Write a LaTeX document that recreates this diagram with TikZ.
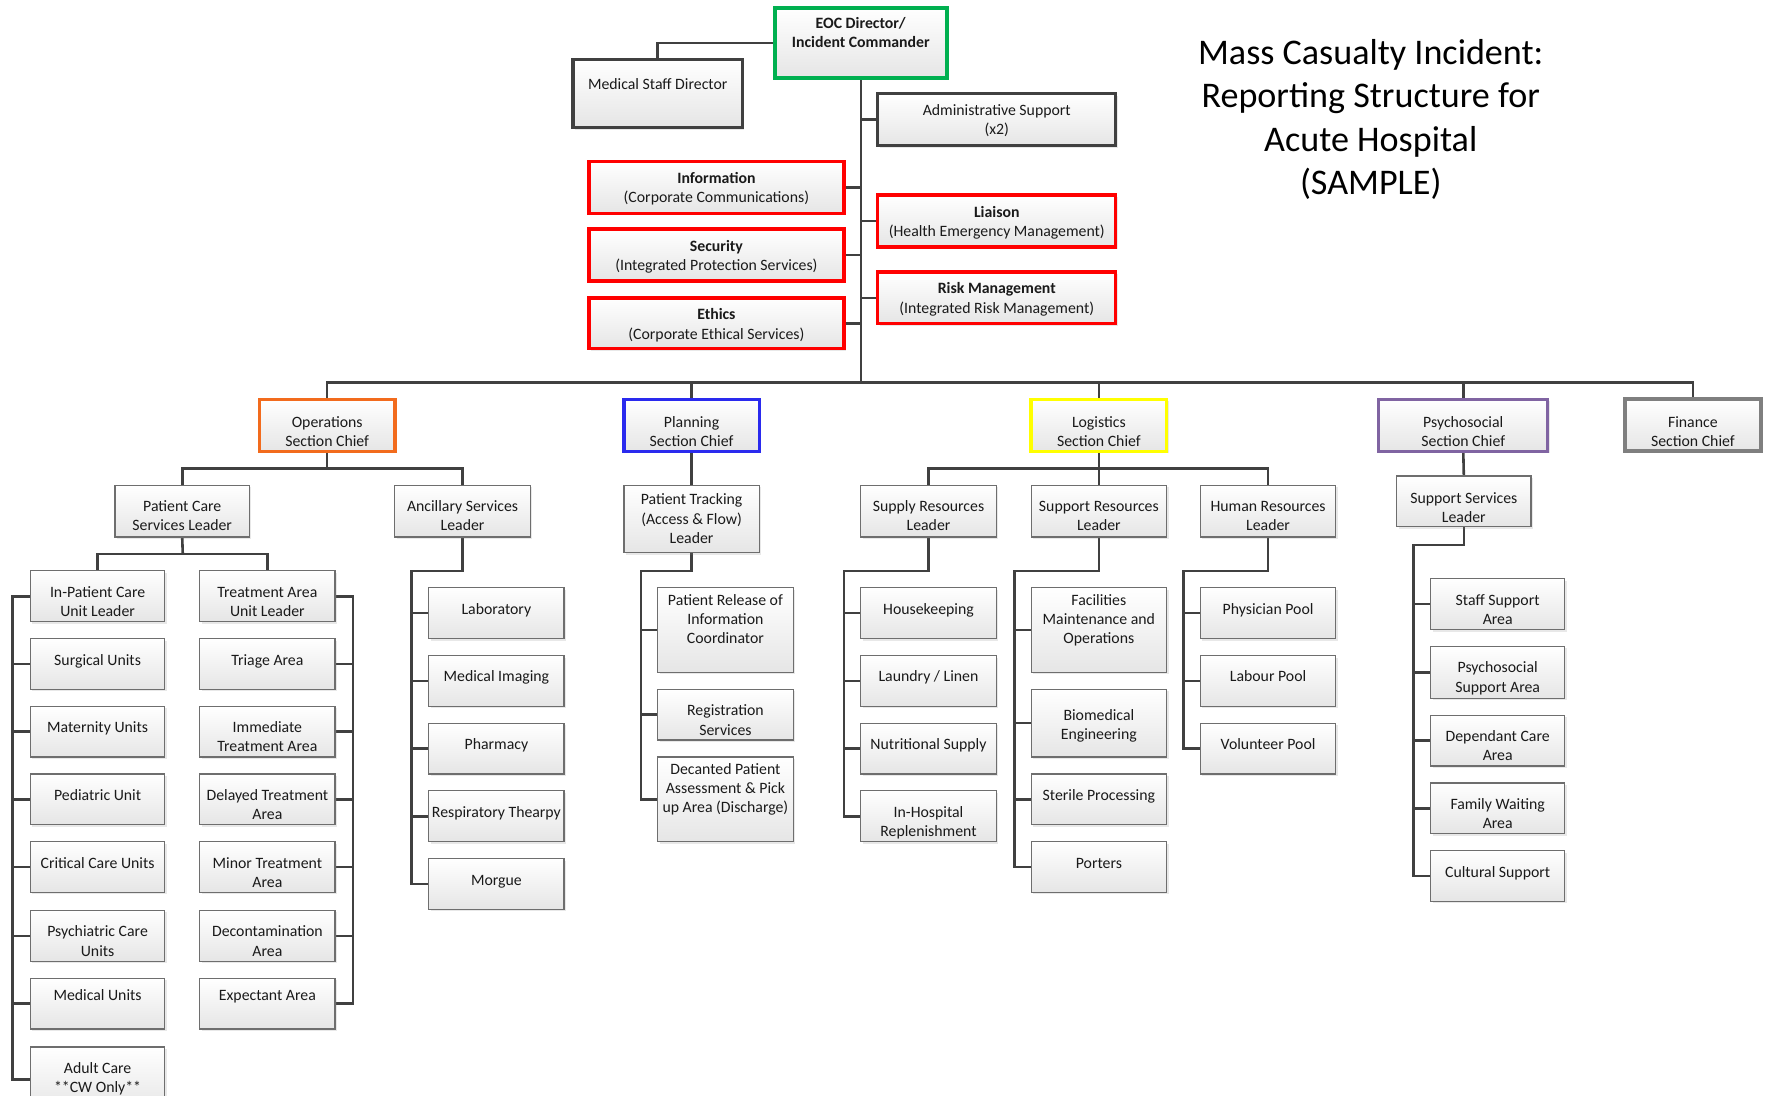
\documentclass[tikz,border=0pt]{standalone}
\usepackage{fontspec}
\setmainfont{Carlito}
\usetikzlibrary{shadows,backgrounds}
\definecolor{ln}{HTML}{404040}
\definecolor{bd}{HTML}{6E6E6E}
\definecolor{txt}{HTML}{1A1A1A}
\definecolor{eocg}{HTML}{00B050}
\definecolor{opso}{HTML}{F26B1D}
\definecolor{plnc}{HTML}{2A2AEE}
\definecolor{logy}{HTML}{FFFF00}
\definecolor{psyp}{HTML}{8064A2}
\definecolor{fing}{HTML}{7F7F7F}
\definecolor{redc}{HTML}{FF0000}
\tikzset{
  ob/.style={draw=bd, line width=1.1pt, top color=white, bottom color=black!10,
    drop shadow={shadow xshift=1.8pt, shadow yshift=-1.8pt, opacity=0.18},
    font=\fontsize{14}{17}\selectfont, text=txt, inner sep=0pt, outer sep=0pt},
  thk/.style={ob, draw=ln, line width=3pt},
  redbx/.style={ob, draw=redc, line width=3pt},
  eocbx/.style={ob, draw=eocg, line width=3.5pt},
  opsbx/.style={ob, draw=opso, line width=3pt},
  plnbx/.style={ob, draw=plnc, line width=3pt},
  logbx/.style={ob, draw=logy, line width=3pt},
  psybx/.style={ob, draw=psyp, line width=2.6pt},
  finbx/.style={ob, draw=fing, line width=3.5pt},
  conn/.style={draw=ln, line width=2.3pt},
}
% #1 baseline offset, #2 name, #3 style, #4 left, #5 top, #6 right, #7 bottom, #8 text
\newcommand\bx[8][23.5]{%
  \node[#3] (#2) at ({(#4+#6)/2},{(#5+#7)/2})
  {\parbox[c][\dimexpr#7pt-#5pt\relax][t]{\dimexpr#6pt-#4pt\relax}{\centering\rule{0pt}{#1pt}#8\par}};}
\begin{document}
\begin{tikzpicture}[x=1pt,y=-1pt]
\useasboundingbox (0,0) rectangle (1568,971);
\clip (0,0) rectangle (1568,971);

% title
\node[font=\fontsize{32}{38.5}\selectfont, align=center, text=black] (title) at (1215,106)
  {Mass Casualty Incident:\\Reporting Structure for\\Acute Hospital\\(SAMPLE)};

% top command
\bx[18.5]{eoc}{eocbx}{687}{7}{839}{69}{\textbf{EOC Director/}\\\textbf{Incident Commander}}
\bx[26.5]{msd}{thk}{508}{53}{658}{113}{Medical Staff Director}
\bx[19.5]{adm}{thk}{778}{83}{989}{129}{Administrative Support\\(x2)}
\bx[19.5]{info}{redbx}{522}{143}{748}{189}{\textbf{Information}\\(Corporate Communications)}
\bx[19.5]{liai}{redbx}{778}{173}{989}{219}{\textbf{Liaison}\\(Health Emergency Management)}
\bx[19.5]{secu}{redbx}{522}{203}{748}{249}{\textbf{Security}\\(Integrated Protection Services)}
\bx[19.5]{risk}{redbx}{778}{241}{989}{287}{\textbf{Risk Management}\\(Integrated Risk Management)}
\bx[19.5]{eth}{redbx}{522}{264}{748}{309}{\textbf{Ethics}\\(Corporate Ethical Services)}

% section chiefs
\bx[24.5]{ops}{opsbx}{230}{354}{350}{400}{Operations\\Section Chief}
\bx[24.5]{pln}{plnbx}{553}{354}{673}{400}{Planning\\Section Chief}
\bx[24.5]{logi}{logbx}{914}{354}{1034}{400}{Logistics\\Section Chief}
\bx[24.5]{psy}{psybx}{1222}{354}{1372}{400}{Psychosocial\\Section Chief}
\bx[24.5]{fin}{finbx}{1440}{354}{1561}{400}{Finance\\Section Chief}

% operations
\bx{pcsl}{ob}{102}{430}{221}{476}{Patient Care\\Services Leader}
\bx{anc}{ob}{350}{430}{470}{476}{Ancillary Services\\Leader}
\bx{inp}{ob}{27}{506}{146}{551}{In-Patient Care\\Unit Leader}
\bx{tau}{ob}{177}{506}{297}{551}{Treatment Area\\Unit Leader}
\bx{surg}{ob}{27}{566}{146}{611}{Surgical Units}
\bx{mat}{ob}{27}{626}{146}{671}{Maternity Units}
\bx{ped}{ob}{27}{686}{146}{731}{Pediatric Unit}
\bx{crit}{ob}{27}{746}{146}{791}{Critical Care Units}
\bx{psyc}{ob}{27}{807}{146}{852}{Psychiatric Care\\Units}
\bx[19.5]{med}{ob}{27}{867}{146}{912}{Medical Units}
\bx[23.5]{adult}{ob}{27}{928}{146}{986}{Adult Care\\\relax**CW Only**}
\bx{tri}{ob}{177}{566}{297}{611}{Triage Area}
\bx{imm}{ob}{177}{626}{297}{671}{Immediate\\Treatment Area}
\bx{del}{ob}{177}{686}{297}{731}{Delayed Treatment\\Area}
\bx{minor}{ob}{177}{746}{297}{791}{Minor Treatment\\Area}
\bx{deco}{ob}{177}{807}{297}{852}{Decontamination\\Area}
\bx[19.5]{expe}{ob}{177}{867}{297}{912}{Expectant Area}
\bx{lab}{ob}{380}{521}{500}{566}{Laboratory}
\bx{mi}{ob}{380}{581}{500}{626}{Medical Imaging}
\bx{pha}{ob}{380}{641}{500}{686}{Pharmacy}
\bx{resp}{ob}{380}{701}{500}{746}{Respiratory Thearpy}
\bx{morg}{ob}{380}{761}{500}{806}{Morgue}

% planning
\bx[17.5]{ptl}{ob}{553}{430}{673}{490}{Patient Tracking\\(Access \& Flow)\\Leader}
\bx[15.5]{prel}{ob}{583}{521}{703}{596}{Patient Release of\\Information\\Coordinator}
\bx{reg}{ob}{583}{611}{703}{656}{Registration\\Services}
\bx[15.5]{dec}{ob}{583}{671}{703}{746}{Decanted Patient\\Assessment \& Pick\\up Area (Discharge)}

% logistics
\bx{srl}{ob}{763}{430}{883}{476}{Supply Resources\\Leader}
\bx{sprl}{ob}{914}{430}{1034}{476}{Support Resources\\Leader}
\bx{hrl}{ob}{1064}{430}{1184}{476}{Human Resources\\Leader}
\bx{hk}{ob}{763}{521}{883}{566}{Housekeeping}
\bx{lau}{ob}{763}{581}{883}{626}{Laundry / Linen}
\bx{nut}{ob}{763}{641}{883}{686}{Nutritional Supply}
\bx{inh}{ob}{763}{701}{883}{746}{In-Hospital\\Replenishment}
\bx[15.5]{fac}{ob}{914}{521}{1034}{596}{Facilities\\Maintenance and\\Operations}
\bx[27.5]{bio}{ob}{914}{611}{1034}{671}{Biomedical\\Engineering}
\bx{ster}{ob}{914}{686}{1034}{731}{Sterile Processing}
\bx{port}{ob}{914}{746}{1034}{791}{Porters}
\bx{phy}{ob}{1064}{521}{1184}{566}{Physician Pool}
\bx{labp}{ob}{1064}{581}{1184}{626}{Labour Pool}
\bx{vol}{ob}{1064}{641}{1184}{686}{Volunteer Pool}

% psychosocial
\bx[24.5]{ssl}{ob}{1238}{422}{1357}{467}{Support Services\\Leader}
\bx{ssa}{ob}{1268}{513}{1387}{558}{Staff Support\\Area}
\bx{psa}{ob}{1268}{573}{1387}{619}{Psychosocial\\Support Area}
\bx{dca}{ob}{1268}{634}{1387}{679}{Dependant Care\\Area}
\bx{fwa}{ob}{1268}{694}{1387}{739}{Family Waiting\\Area}
\bx{cul}{ob}{1268}{754}{1387}{799}{Cultural Support}

% junction coordinates
\coordinate (bus) at (0,339);
\coordinate (opsj) at (290,415);
\coordinate (pcj) at (162,491);
\coordinate (spL) at (11,0);
\coordinate (spRt) at (313,0);
\coordinate (spA) at (365,506);
\coordinate (spP) at (568,506);
\coordinate (logj) at (974,415);
\coordinate (spS) at (748,506);
\coordinate (spR2) at (899,506);
\coordinate (spH) at (1049,506);
\coordinate (spY) at (1253,483);

\begin{scope}[on background layer]
\fill[white] (0,0) rectangle (1568,971);
\draw[conn] (eoc.west) -| (msd.north);
\draw[conn] (eoc.south) -- (eoc.south |- bus);
\foreach \n in {adm,liai,risk} \draw[conn] (\n.west) -- (\n.west -| eoc.south);
\foreach \n in {info,secu,eth} \draw[conn] (\n.east) -- (\n.east -| eoc.south);
\draw[conn] (ops.north) -- (ops.north |- bus) -- (fin.north |- bus) -- (fin.north);
\foreach \n in {pln,logi,psy} \draw[conn] (\n.north) -- (\n.north |- bus);
% operations
\draw[conn] (ops.south) -- (opsj);
\draw[conn] (pcsl.north) |- (opsj) -| (anc.north);
\draw[conn] (pcsl.south) -- (pcj);
\draw[conn] (inp.north) |- (pcj) -| (tau.north);
\draw[conn] (inp.west) -- (inp.west -| spL) -- (adult.west -| spL) -- (adult.west);
\foreach \n in {surg,mat,ped,crit,psyc,med} \draw[conn] (\n.west) -- (\n.west -| spL);
\draw[conn] (tau.east) -- (tau.east -| spRt) -- (expe.east -| spRt) -- (expe.east);
\foreach \n in {tri,imm,del,minor,deco} \draw[conn] (\n.east) -- (\n.east -| spRt);
\draw[conn] (anc.south) |- (spA) |- (morg.west);
\foreach \n in {lab,mi,pha,resp} \draw[conn] (\n.west) -- (\n.west -| spA);
% planning
\draw[conn] (pln.south) -- (ptl.north);
\draw[conn] (ptl.south) |- (spP) |- (dec.west);
\foreach \n in {prel,reg} \draw[conn] (\n.west) -- (\n.west -| spP);
% logistics
\draw[conn] (logi.south) -- (sprl.north);
\draw[conn] (srl.north) |- (logj) -| (hrl.north);
\draw[conn] (srl.south) |- (spS) |- (inh.west);
\foreach \n in {hk,lau,nut} \draw[conn] (\n.west) -- (\n.west -| spS);
\draw[conn] (sprl.south) |- (spR2) |- (port.west);
\foreach \n in {fac,bio,ster} \draw[conn] (\n.west) -- (\n.west -| spR2);
\draw[conn] (hrl.south) |- (spH) |- (vol.west);
\foreach \n in {phy,labp} \draw[conn] (\n.west) -- (\n.west -| spH);
% psychosocial
\draw[conn] (psy.south) -- (ssl.north);
\draw[conn] (ssl.south) |- (spY) |- (cul.west);
\foreach \n in {ssa,psa,dca,fwa} \draw[conn] (\n.west) -- (\n.west -| spY);
\end{scope}
\end{tikzpicture}
\end{document}
